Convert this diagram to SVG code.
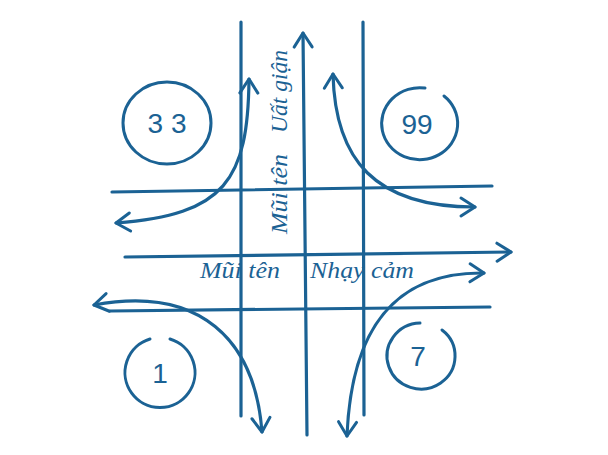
<svg xmlns="http://www.w3.org/2000/svg" width="608" height="455" viewBox="0 0 608 455">
<defs>
<style>
.ln{fill:none;stroke:#1b6294;stroke-width:3.2;stroke-linecap:round;stroke-linejoin:round}
.ring{fill:none;stroke:#1b6294;stroke-width:3;stroke-linecap:round}
.num{font-family:"Liberation Sans",Arial,sans-serif;font-size:28px;fill:#1b6294;text-anchor:middle}
.lbl{font-family:"Liberation Serif","Times New Roman",serif;font-style:italic;font-size:24px;fill:#1b6294}
</style>
<marker id="ah" viewBox="-18 -12 22 24" refX="0" refY="0" markerWidth="22" markerHeight="24" markerUnits="userSpaceOnUse" orient="auto-start-reverse">
<path d="M-14,-9 L0,0 L-14,9" fill="none" stroke="#1b6294" stroke-width="3" stroke-linecap="round" stroke-linejoin="round"/>
</marker>
</defs>
<rect width="608" height="455" fill="#ffffff"/>
<g id="connectors">
<path class="ln" d="M241,22 L241,416"/>
<path class="ln" d="M363,22 L364,415"/>
<path class="ln" d="M307,435 L303,33" marker-end="url(#ah)"/>
<path class="ln" d="M112,192 L492,186"/>
<path class="ln" d="M125,257 L511,252" marker-end="url(#ah)"/>
<path class="ln" d="M110,311 L490,307"/>
<path class="ln" d="M249,79 C248,180 225,215 116,223" marker-start="url(#ah)" marker-end="url(#ah)"/>
<path class="ln" d="M333,74 C335,160 375,207 475,207" marker-start="url(#ah)" marker-end="url(#ah)"/>
<path class="ln" d="M94,305 C200,285 255,340 262,432" marker-start="url(#ah)" marker-end="url(#ah)"/>
<path class="ln" d="M484,273 C410,272 352,310 347,436" marker-start="url(#ah)" marker-end="url(#ah)"/>
</g>
<g id="n33">
<ellipse class="ring" cx="167" cy="123" rx="44" ry="41"/>
<text class="num" x="167" y="133">3 3</text>
</g>
<g id="n99">
<path class="ring" d="M444,96 A38,36 0 1 1 425,88"/>
<text class="num" x="417" y="134">99</text>
</g>
<g id="n1">
<path class="ring" d="M170,339 A35,35 0 1 1 150,339"/>
<text class="num" x="160" y="383">1</text>
</g>
<g id="n7">
<path class="ring" d="M442,330 A34,33 0 1 1 420,323"/>
<text class="num" x="418" y="366">7</text>
</g>
<g id="lbl-vertical">
<text class="lbl" transform="translate(287,234) rotate(-90)" textLength="80" lengthAdjust="spacingAndGlyphs">Mũi tên</text>
<text class="lbl" transform="translate(287,133) rotate(-90)" textLength="83" lengthAdjust="spacingAndGlyphs">Uất giận</text>
</g>
<g id="lbl-horizontal">
<text class="lbl" x="200" y="278" textLength="80" lengthAdjust="spacingAndGlyphs">Mũi tên</text>
<text class="lbl" x="310" y="278" textLength="104" lengthAdjust="spacingAndGlyphs">Nhạy cảm</text>
</g>
</svg>
